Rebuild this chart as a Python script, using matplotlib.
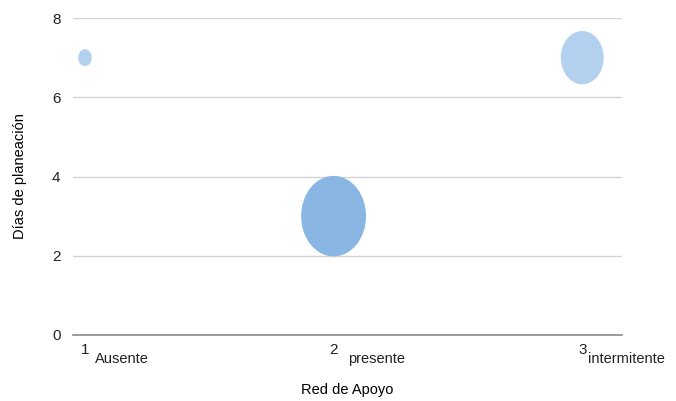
import matplotlib.pyplot as plt
import matplotlib.transforms as mtransforms
from matplotlib.path import Path

plt.rcParams['font.family'] = ['Liberation Sans', 'DejaVu Sans']

# datos del gráfico de burbujas
red_apoyo = [1, 2, 3]
categorias = ['Ausente', 'presente', 'intermitente']
dias = [7, 3, 7]
tamanos = [1.4, 32, 14]
colores = ['#b3d1ee', '#8ab6e4', '#b3d1ee']

# marcador elíptico (las burbujas salen algo estiradas en vertical)
elipse = Path.unit_circle().transformed(mtransforms.Affine2D().scale(1.0, 1.24))

fig = plt.figure(figsize=(6.76, 4.01), dpi=100)
ax = fig.add_axes([73 / 676, (401 - 335) / 401, (622 - 73) / 676, (335 - 18) / 401])

for x, y, s, c in zip(red_apoyo, dias, tamanos, colores):
    ax.scatter(x, y, s=s * 105, marker=elipse, color=c, edgecolors='none', zorder=3)

ax.set_xlim(0.952, 3.16)
ax.set_ylim(0, 8)
ax.set_yticks([0, 2, 4, 6, 8])
ax.set_xticks(red_apoyo)
ax.set_xticklabels([str(v) for v in red_apoyo])
ax.grid(axis='y', color='#d4d4d4', linewidth=1)
ax.set_axisbelow(True)
for lado in ['top', 'right', 'left']:
    ax.spines[lado].set_visible(False)
ax.spines['bottom'].set_color('#8c8c8c')
ax.spines['bottom'].set_linewidth(1.2)
ax.tick_params(length=0, labelsize=11, colors='#222222')
ax.tick_params(axis='y', pad=9)
ax.tick_params(axis='x', pad=6)

# nombres de categoría junto al número
trans = mtransforms.blended_transform_factory(ax.transData, ax.transAxes)
desplaz = [0.04, 0.06, 0.025]
for x, nombre, d in zip(red_apoyo, categorias, desplaz):
    ax.text(x + d, -0.055, nombre, transform=trans, ha='left', va='top',
            fontsize=10.5, color='#222222')

ax.set_xlabel('Red de Apoyo', fontsize=10.5, va='center')
ax.xaxis.set_label_coords((347 - 73) / 549, (335 - 390) / 317)
ax.set_ylabel('Días de planeación', fontsize=10.5, va='center')
ax.yaxis.set_label_coords((20 - 73) / 549, 0.5)

fig.savefig('out.png', dpi=100)
